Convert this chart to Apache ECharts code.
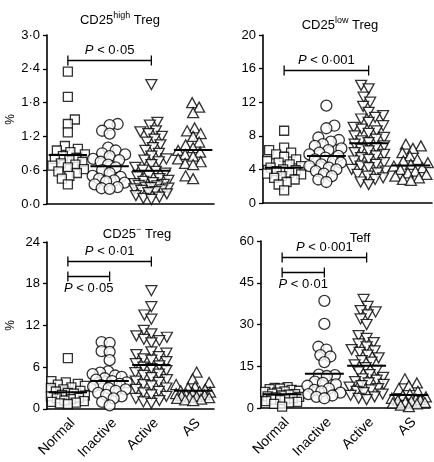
<!DOCTYPE html>
<html><head><meta charset="utf-8">
<script src="https://cdn.jsdelivr.net/npm/echarts@6/dist/echarts.min.js"></script>
<style>html,body{margin:0;padding:0;background:#fff}#c{width:434px;height:462px}</style>
</head><body><div id="c"></div>
<script>
const categories = ['Normal', 'Inactive', 'Active', 'AS'];

// Panel 1: CD25high Treg (%)
const highNormal = [2.35, 1.9, 1.5, 1.42, 1.27, 1.03, 0.98, 0.95, 0.92, 0.88, 0.85, 0.82, 0.8, 0.78, 0.75, 0.72, 0.7, 0.68, 0.65, 0.62, 0.58, 0.55, 0.5, 0.45, 0.35];
const highInactive = [1.42, 1.4, 1.3, 1.25, 1.0, 0.95, 0.9, 0.88, 0.85, 0.8, 0.78, 0.75, 0.7, 0.65, 0.6, 0.55, 0.5, 0.48, 0.45, 0.42, 0.4, 0.38, 0.35, 0.3, 0.28, 0.27];
const highActive = [2.12, 1.45, 1.4, 1.3, 1.28, 1.25, 1.2, 1.15, 1.1, 1.05, 1.0, 0.95, 0.9, 0.85, 0.8, 0.78, 0.75, 0.7, 0.65, 0.6, 0.58, 0.55, 0.5, 0.48, 0.45, 0.42, 0.4, 0.38, 0.36, 0.35, 0.33, 0.32, 0.3, 0.29, 0.28, 0.27, 0.25, 0.24, 0.22, 0.2, 0.18, 0.15, 0.12, 0.1, 0.08];
const highAS = [1.8, 1.72, 1.62, 1.35, 1.3, 1.25, 1.2, 1.1, 1.05, 1.0, 0.95, 0.92, 0.88, 0.85, 0.8, 0.75, 0.72, 0.7, 0.5, 0.45];
const highMeans = [0.87, 0.67, 0.59, 0.96];
const highBrackets = [[0, 2, 2.55, '0·05', 1]];

// Panel 2: CD25low Treg (%)
const lowNormal = [8.6, 6.6, 6.3, 6.0, 5.8, 5.5, 5.2, 5.0, 4.8, 4.6, 4.4, 4.2, 4.0, 3.9, 3.8, 3.6, 3.5, 3.4, 3.2, 3.0, 2.8, 2.5, 2.2, 1.5];
const lowInactive = [11.6, 9.2, 8.9, 7.8, 7.5, 7.3, 7.0, 6.8, 6.5, 6.3, 6.0, 5.8, 5.6, 5.4, 5.2, 5.0, 4.8, 4.6, 4.4, 4.2, 4.0, 3.8, 3.5, 3.2, 2.8, 2.5];
const lowActive = [14.0, 13.6, 12.6, 12.0, 11.5, 10.8, 10.4, 10.2, 10.0, 9.6, 9.2, 9.0, 8.8, 8.6, 8.3, 8.0, 7.8, 7.6, 7.4, 7.2, 7.0, 6.8, 6.6, 6.4, 6.2, 6.0, 5.8, 5.6, 5.4, 5.2, 5.0, 4.8, 4.6, 4.4, 4.2, 4.0, 3.8, 3.6, 3.4, 3.2, 3.0, 2.8, 2.5, 2.2];
const lowAS = [7.0, 6.8, 6.5, 6.0, 5.6, 5.2, 5.0, 4.8, 4.6, 4.4, 4.2, 4.0, 3.8, 3.6, 3.4, 3.2, 3.0, 2.8, 2.7];
const lowMeans = [4.2, 5.6, 7.1, 4.45];
const lowBrackets = [[0, 2, 15.8, '0·001', 1]];

// Panel 3: CD25- Treg (%)
const negNormal = [7.3, 4.0, 3.8, 3.6, 3.5, 3.3, 3.1, 3.0, 2.8, 2.6, 2.5, 2.3, 2.2, 2.0, 1.9, 1.8, 1.6, 1.5, 1.4, 1.2, 1.1, 1.0, 0.9, 0.8, 0.7];
const negInactive = [9.6, 9.5, 8.3, 8.2, 7.0, 5.4, 5.2, 5.0, 4.8, 4.6, 4.4, 4.2, 4.0, 3.8, 3.6, 3.4, 3.2, 3.0, 2.8, 2.6, 2.3, 2.0, 1.8, 1.5, 1.0, 0.5];
const negActive = [17.0, 14.7, 13.5, 12.9, 11.3, 10.8, 10.5, 10.3, 10.0, 9.8, 9.5, 8.2, 8.0, 7.8, 7.5, 7.2, 7.0, 6.8, 6.5, 6.2, 6.0, 5.8, 5.5, 5.2, 5.0, 4.8, 4.5, 4.2, 4.0, 3.8, 3.5, 3.3, 3.0, 2.8, 2.5, 2.3, 2.0, 1.8, 1.5, 1.2, 1.0, 0.8];
const negAS = [5.3, 4.3, 3.8, 3.5, 3.2, 3.0, 2.8, 2.6, 2.5, 2.4, 2.3, 2.2, 2.1, 2.0, 1.9, 1.8, 1.7, 1.6, 1.5, 1.4, 1.3, 1.2];
const negMeans = [2.4, 4.0, 6.3, 2.6];
const negBrackets = [[0, 2, 21.2, '0·01', 1], [0, 1, 19.1, '0·05', -1]];

// Panel 4: Teff (%)
const teffNormal = [7.5, 7.2, 7.0, 6.8, 6.5, 6.2, 6.0, 5.8, 5.5, 5.2, 5.0, 4.8, 4.5, 4.2, 4.0, 3.8, 3.5, 3.2, 3.0, 2.8, 2.5, 2.2, 2.0, 1.5, 0.5];
const teffInactive = [38.5, 30.2, 22.0, 21.0, 19.0, 18.5, 16.5, 12.0, 11.8, 11.5, 9.5, 9.0, 8.5, 8.0, 7.0, 6.5, 6.0, 5.5, 5.0, 4.5, 4.0, 3.5];
const teffActive = [39.0, 36.5, 35.0, 34.5, 33.5, 32.0, 30.0, 26.0, 25.0, 23.5, 23.0, 22.0, 21.0, 20.5, 20.0, 19.0, 18.0, 17.0, 16.5, 15.5, 14.5, 13.5, 13.0, 12.0, 11.0, 10.5, 10.0, 9.5, 9.0, 8.5, 8.0, 7.5, 7.0, 6.5, 6.0, 5.5, 5.0, 4.5, 4.0, 3.5, 3.0];
const teffAS = [10.5, 9.0, 8.0, 7.0, 6.0, 5.0, 4.5, 4.0, 3.5, 3.2, 3.0, 2.8, 2.5, 2.2, 2.0, 1.8, 1.5, 1.0, 0.5];
const teffMeans = [4.9, 12.3, 15.2, 4.7];
const teffBrackets = [[0, 2, 54.2, '0·001', 1], [0, 1, 49.0, '0·01', -1]];

const yMax = [3, 20, 24, 60];
const yInterval = [0.6, 4, 6, 15];
const titles = ['CD25{s|high} Treg', 'CD25{s|low} Treg', 'CD25{s|−} Treg', 'Teff'];

const panels = [
  [highNormal, highInactive, highActive, highAS],
  [lowNormal, lowInactive, lowActive, lowAS],
  [negNormal, negInactive, negActive, negAS],
  [teffNormal, teffInactive, teffActive, teffAS]
];
const means = [highMeans, lowMeans, negMeans, teffMeans];
const brackets = [highBrackets, lowBrackets, negBrackets, teffBrackets];

const FONT = '"Liberation Sans", Arial, Helvetica, sans-serif';
const grids = [
  {left: 47, top: 35, width: 167, height: 169},
  {left: 263, top: 35, width: 169, height: 168},
  {left: 47, top: 242, width: 167, height: 167},
  {left: 261, top: 241, width: 169, height: 167}
];
const titlePos = [[115, 6], [335, 11], [132, 220], [355, 224]];
const symbols = ['rect', 'circle', 'triangle', 'triangle'];
const symRot = [0, 0, 180, 0];
const symSize = [9, 11, [11, 10], [11, 10]];

const chart = echarts.init(document.getElementById('c'), null, {renderer: 'canvas'});

function fmt(p, v) {
  return p === 0 ? v.toFixed(1).replace('.', '·') : String(v);
}

function buildOption(offsets) {
  const series = [];
  for (let p = 0; p < 4; p++) {
    for (let g = 0; g < 4; g++) {
      series.push({
        type: 'scatter', xAxisIndex: p, yAxisIndex: p,
        symbol: symbols[g], symbolRotate: symRot[g], symbolSize: symSize[g],
        itemStyle: {color: '#fff', borderColor: '#000', borderWidth: 1.3},
        emphasis: {disabled: true},
        z: 2,
        data: panels[p][g].map((v, i) => ({
          value: [g, v],
          symbolOffset: [offsets ? offsets[p][g][i] : 0, 0]
        }))
      });
    }
    series.push({
      type: 'custom', xAxisIndex: p, yAxisIndex: p, z: 5,
      silent: true,
      data: means[p].map((m, g) => [g, m]),
      encode: {x: 0, y: 1},
      renderItem: function (params, api) {
        const c = api.coord([api.value(0), api.value(1)]);
        const w = api.size([1, 0])[0] * 0.46;
        return {type: 'line', shape: {x1: c[0] - w, y1: c[1], x2: c[0] + w, y2: c[1]},
          style: {stroke: '#000', lineWidth: 2}};
      }
    });
    series.push({
      type: 'custom', xAxisIndex: p, yAxisIndex: p, z: 5,
      silent: true, clip: false,
      data: brackets[p],
      dimensions: ['a', 'b', 'y', 't', 'pos'],
      encode: {x: [0, 1], y: 2},
      renderItem: function (params, api) {
        const b = brackets[p][params.dataIndex];
        const c1 = api.coord([b[0], b[2]]);
        const c2 = api.coord([b[1], b[2]]);
        const h = 5;
        const y = Math.round(c1[1]) + 0.5;
        const ty = b[4] > 0 ? y - 10 : y + 12;
        return {type: 'group', children: [
          {type: 'line', shape: {x1: c1[0], y1: y, x2: c2[0], y2: y}, style: {stroke: '#000', lineWidth: 1.3}},
          {type: 'line', shape: {x1: c1[0], y1: y - h, x2: c1[0], y2: y + h}, style: {stroke: '#000', lineWidth: 1.3}},
          {type: 'line', shape: {x1: c2[0], y1: y - h, x2: c2[0], y2: y + h}, style: {stroke: '#000', lineWidth: 1.3}},
          {type: 'text', x: (c1[0] + c2[0]) / 2, y: ty, style: {
            text: '{i|P}{n| < ' + b[3] + '}',
            rich: {i: {fontStyle: 'italic', fontSize: 13, fontFamily: FONT, fill: '#000'},
                   n: {fontSize: 13, fontFamily: FONT, fill: '#000'}},
            align: 'center', verticalAlign: 'middle', fill: '#000'
          }}
        ]};
      }
    });
  }
  return {
    animation: false,
    backgroundColor: '#fff',
    textStyle: {fontFamily: FONT},
    title: titles.map((t, i) => ({
      text: t, left: titlePos[i][0], top: titlePos[i][1], textAlign: 'center',
      textStyle: {fontSize: 13, fontWeight: 'normal', color: '#000', fontFamily: FONT, lineHeight: 18,
        rich: {s: {fontSize: 9, fontFamily: FONT, color: '#000', verticalAlign: 'top', lineHeight: 9}}}
    })),
    grid: grids,
    xAxis: grids.map((g, i) => ({
      type: 'category', gridIndex: i, data: categories, boundaryGap: true,
      axisLine: {lineStyle: {color: '#000', width: 1.6}},
      axisTick: {alignWithLabel: true, length: 4, lineStyle: {color: '#000', width: 1.3}},
      axisLabel: {show: i >= 2, rotate: 45, fontSize: 14, color: '#000', fontFamily: FONT, margin: 7,
        verticalAlign: 'top', interval: 0},
      splitLine: {show: false}
    })),
    yAxis: grids.map((g, i) => ({
      type: 'value', gridIndex: i, min: 0, max: yMax[i], interval: yInterval[i],
      name: (i % 2 === 0) ? '%' : '', nameLocation: 'middle', nameGap: 30, nameRotate: 90,
      nameTextStyle: {fontSize: 12, color: '#000', fontFamily: FONT},
      axisLine: {show: true, lineStyle: {color: '#000', width: 1.6}},
      axisTick: {show: true, length: 4, lineStyle: {color: '#000', width: 1.3}},
      axisLabel: {fontSize: 13, color: '#000', fontFamily: FONT, margin: 7, formatter: v => fmt(i, v)},
      splitLine: {show: false}
    })),
    series: series
  };
}

chart.setOption(buildOption(null));

function swarm(values, toPx, minDist, maxDx) {
  const idx = values.map((v, i) => i).sort((a, b) => values[a] - values[b]);
  const placed = [];
  const out = new Array(values.length).fill(0);
  let flip = 1;
  for (const i of idx) {
    const y = toPx(values[i]);
    let chosen = null, fb = 0, fbScore = -1;
    for (let k = 0; k <= maxDx * 2 && chosen === null; k++) {
      const s = k / 2;
      const cands = s === 0 ? [0] : [s * flip, -s * flip];
      for (const dx of cands) {
        let md = Infinity;
        for (const p of placed) {
          const d = Math.hypot(dx - p[0], y - p[1]);
          if (d < md) md = d;
        }
        if (md >= minDist) { chosen = dx; break; }
        if (md > fbScore) { fbScore = md; fb = dx; }
      }
    }
    if (chosen === null) chosen = fb;
    flip = -flip;
    placed.push([chosen, y]);
    out[i] = chosen;
  }
  return out;
}

const offsets = panels.map((groups, p) => groups.map(vals =>
  swarm(vals, v => chart.convertToPixel({yAxisIndex: p}, v), 8, 17)));
chart.setOption(buildOption(offsets));
</script></body></html>
